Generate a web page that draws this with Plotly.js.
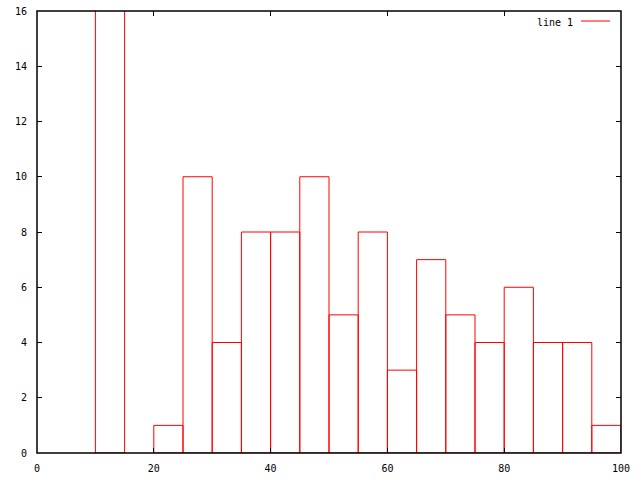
<!DOCTYPE html>
<html>
<head>
<meta charset="utf-8">
<script src="https://cdn.plot.ly/plotly-3.0.1.min.js"></script>
<style>html,body{margin:0;padding:0;background:#fff;}#chart{width:640px;height:480px;}</style>
</head>
<body>
<div id="chart"></div>
<script>
// Bin left edges (width 5) and counts
var binStarts = [10, 15, 20, 25, 30, 35, 40, 45, 50, 55, 60, 65, 70, 75, 80, 85, 90, 95];
var counts    = [18, null, 1, 10, 4, 8, 8, 10, 5, 8, 3, 7, 5, 4, 6, 4, 4, 1];
var binWidth = 5;
var seriesName = "line 1";
var xTicks = [0, 20, 40, 60, 80, 100];
var yTicks = [0, 2, 4, 6, 8, 10, 12, 14, 16];

var centers = binStarts.map(function (s) { return s + binWidth / 2; });

var trace = {
  type: "bar",
  x: centers,
  y: counts,
  width: binStarts.map(function () { return binWidth; }),
  name: seriesName,
  marker: { color: "rgba(0,0,0,0)", line: { color: "#ff0000", width: 1 } },
  showlegend: false,
  hoverinfo: "x+y"
};

var tickFont = { family: "DejaVu Sans Mono, monospace", size: 10, color: "#000" };

var layout = {
  width: 640, height: 480,
  margin: { l: 37, r: 19, t: 11, b: 27, pad: 0 },
  paper_bgcolor: "#fff", plot_bgcolor: "#fff",
  showlegend: false,
  bargap: 0,
  xaxis: {
    range: [0, 100], tickvals: xTicks, ticktext: xTicks.map(String),
    ticks: "inside", ticklen: 5, tickcolor: "#000", tickwidth: 1,
    showline: true, linecolor: "rgba(0,0,0,0)", linewidth: 1, mirror: "ticks",
    showgrid: false, zeroline: false, tickfont: tickFont, ticklabelstandoff: 6
  },
  yaxis: {
    range: [0, 16], tickvals: yTicks, ticktext: yTicks.map(String),
    ticks: "inside", ticklen: 5, tickcolor: "#000", tickwidth: 1,
    showline: true, linecolor: "rgba(0,0,0,0)", linewidth: 1, mirror: "ticks",
    showgrid: false, zeroline: false, tickfont: tickFont, ticklabelstandoff: 7
  },
  annotations: [{
    xref: "paper", yref: "paper", x: (575 - 37) / 584, y: 1 - (22 - 11) / 442,
    xanchor: "right", yanchor: "middle", text: seriesName, showarrow: false,
    font: tickFont
  }],
  shapes: [{
    type: "line", xref: "paper", yref: "paper",
    x0: (581 - 37) / 584, x1: (610 - 37) / 584,
    y0: 1 - (21 - 11) / 442, y1: 1 - (21 - 11) / 442,
    line: { color: "#ff0000", width: 1 }
  }, {
    type: "rect", xref: "paper", yref: "paper", x0: 0, x1: 1, y0: 0, y1: 1,
    layer: "above", line: { color: "#000", width: 1.5 }, fillcolor: "rgba(0,0,0,0)"
  }]
};

Plotly.newPlot("chart", [trace], layout, { displayModeBar: false, staticPlot: true });
</script>
</body>
</html>
